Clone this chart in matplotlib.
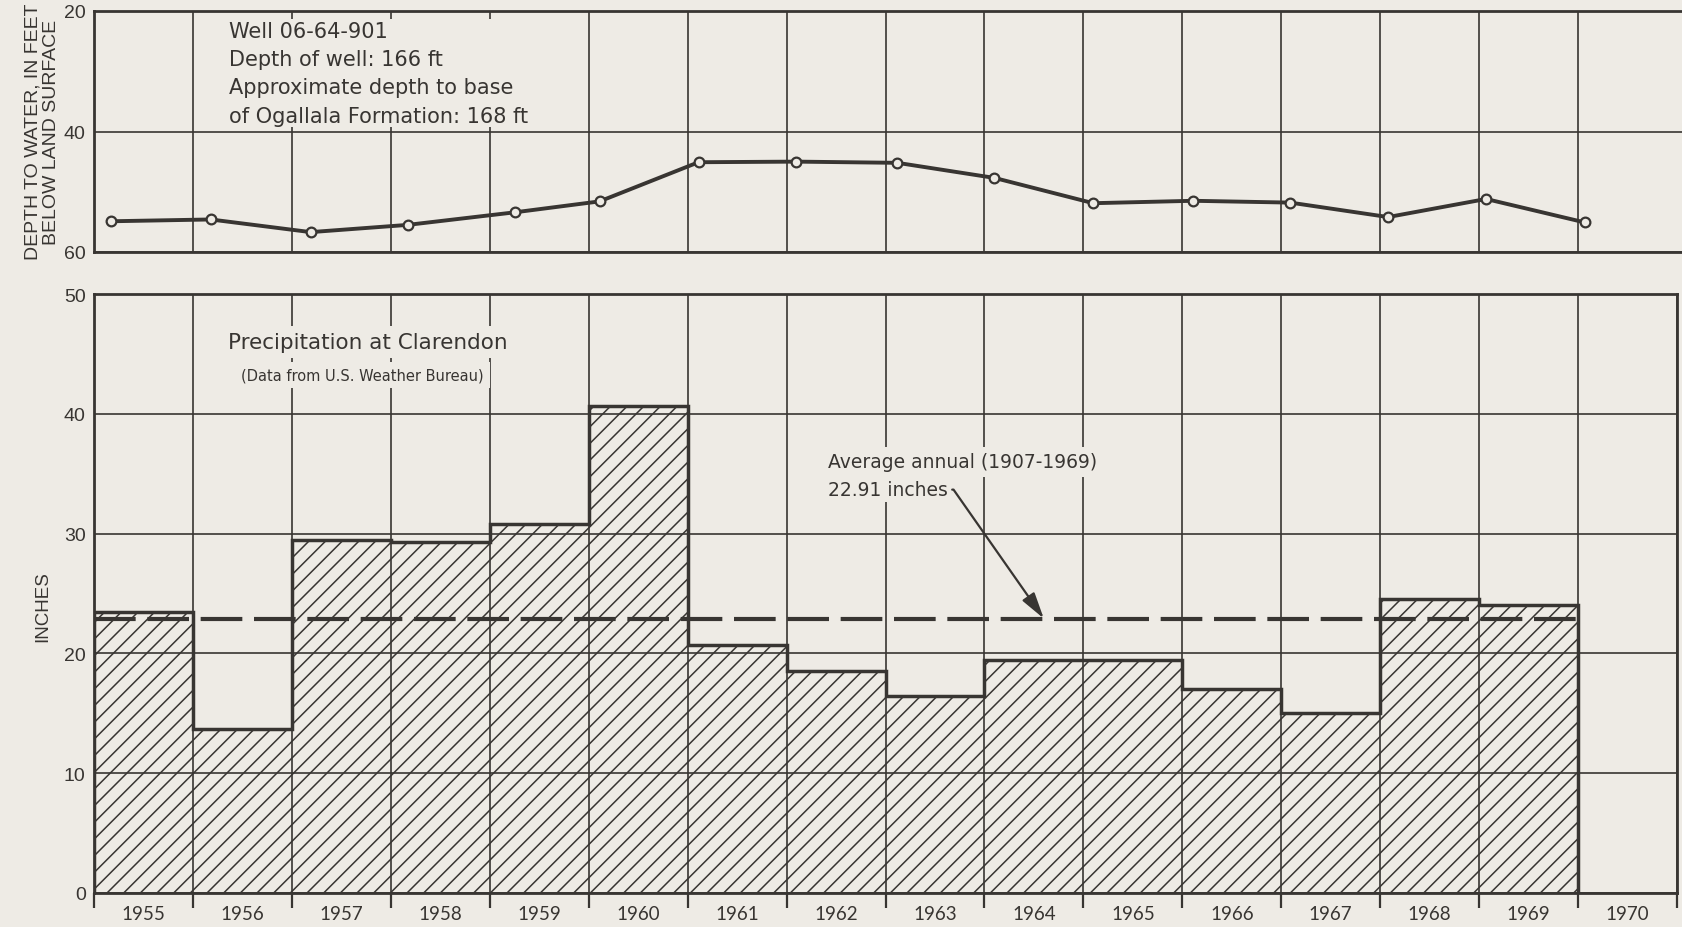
import numpy as np
import matplotlib.pyplot as plt

PAPER = "#eeebe5"
INK = "#383532"

# annual precipitation at Clarendon, inches
years = np.arange(1955, 1970)
precip = [23.47, 13.67, 29.47, 29.30, 30.78, 40.64, 20.67, 18.53,
          16.44, 19.42, 19.42, 17.06, 15.06, 24.58, 24.03]
avg_annual = 22.91

# well 06-64-901, depth to water in ft, measured early in each year
well_year = np.arange(1955, 1971)
well_offset = [0.17, 0.18, 0.19, 0.17, 0.26, 0.11, 0.11, 0.10,
               0.12, 0.10, 0.10, 0.11, 0.09, 0.08, 0.07, 0.07]
well_depth = [54.9, 54.6, 56.7, 55.5, 53.4, 51.6, 45.1, 45.0,
              45.2, 47.7, 51.9, 51.5, 51.8, 54.2, 51.2, 55.1]

year_labels = [str(y) for y in range(1955, 1971)]

plt.rcParams["hatch.linewidth"] = 1.1
plt.rcParams["hatch.color"] = INK
plt.rcParams["font.family"] = ["Liberation Sans", "DejaVu Sans"]
LETTER = ["DejaVu Sans"]

fig = plt.figure(figsize=(16.82, 9.28), dpi=100, facecolor=PAPER)
ax1 = fig.add_axes([94 / 1682, 1 - 253 / 928, 1588 / 1682, 241 / 928])
ax2 = fig.add_axes([94 / 1682, 1 - 894 / 928, 1583 / 1682, 599 / 928])

edges = np.arange(1955, 1972)
bar_edges = np.append(years, years[-1] + 1)

for ax in (ax1, ax2):
    ax.set_facecolor(PAPER)
    ax.set_axisbelow(False)
    for s in ax.spines.values():
        s.set_linewidth(2.0)
        s.set_color(INK)
    ax.grid(True, which="major", color=INK, linewidth=1.2)
    ax.tick_params(axis="y", length=0, pad=6, labelsize=14, labelcolor=INK)

# --- well hydrograph ---
ax1.plot(well_year + np.array(well_offset), well_depth, color=INK, lw=2.8,
         marker="o", ms=7, mfc=PAPER, mec=INK, mew=1.6, zorder=3)
ax1.set_xlim(1955, 1955 + 1588 / 98.94)
ax1.set_xticks(edges[:-1])
ax1.set_ylim(60, 20)
ax1.set_yticks([20, 40, 60])
ax1.tick_params(axis="x", length=0, labelbottom=False)
ax1.spines["right"].set_visible(False)

ax1.text(1956.36, 21.6,
         "Well 06-64-901\nDepth of well: 166 ft\nApproximate depth to base\n"
         "of Ogallala Formation: 168 ft",
         family=LETTER, fontsize=15, va="top", ha="left", linespacing=1.52,
         color=INK, zorder=4,
         bbox=dict(facecolor=PAPER, edgecolor="none", pad=1))

# --- precipitation ---
ax2.stairs(precip, bar_edges, baseline=0, fill=True, facecolor=PAPER,
           edgecolor=INK, hatch="//", linewidth=0, zorder=1)
ax2.stairs(precip, bar_edges, baseline=0, color=INK, linewidth=2.5, zorder=2)
ax2.hlines(avg_annual, bar_edges[0], bar_edges[-1], colors=INK, linewidth=3,
           linestyles=(0, (10, 2.8)), zorder=2.6)

ax2.set_xlim(1955, 1971)
ax2.set_ylim(0, 50)
ax2.set_yticks(range(0, 51, 10))
ax2.set_xticks(edges)
ax2.tick_params(axis="x", which="major", length=11, width=1.6, direction="out",
                color=INK, labelbottom=False)
ax2.set_xticks(edges[:-1] + 0.5, year_labels, minor=True)
ax2.tick_params(axis="x", which="minor", length=0, pad=9, labelsize=13.5,
                labelcolor=INK)
for lbl in ax2.get_xticklabels(minor=True):
    lbl.set_fontfamily(["Lato", "DejaVu Sans"])

mask = dict(facecolor=PAPER, edgecolor="none", pad=4)
ax2.text(1956.35, 46.0, "Precipitation at Clarendon", family=LETTER,
         fontsize=15.5, va="center", ha="left", color=INK, zorder=4, bbox=mask)
ax2.text(1956.49, 43.25, "(Data from U.S. Weather Bureau)", family=LETTER,
         fontsize=10.5, va="center", ha="left", color=INK, zorder=4, bbox=mask)
ax2.text(1962.42, 36.0, "Average annual (1907-1969)", family=LETTER,
         fontsize=13.5, va="center", ha="left", color=INK, zorder=4, bbox=mask)
ax2.annotate("22.91 inches", xy=(1964.6, avg_annual), xytext=(1962.42, 33.67),
             family=LETTER, fontsize=13.5, va="center", ha="left", color=INK,
             zorder=4, bbox=dict(facecolor=PAPER, edgecolor="none", pad=2),
             arrowprops=dict(arrowstyle="-|>,head_length=0.8,head_width=0.22",
                             color=INK, lw=1.6, mutation_scale=20,
                             connectionstyle="angle,angleA=0,angleB=125,rad=0",
                             relpos=(1, 0.5), shrinkA=1, shrinkB=0))

fig.text(42 / 1682, 1 - 132 / 928, "DEPTH TO WATER, IN FEET\nBELOW LAND SURFACE",
         rotation=90, ha="center", va="center", fontsize=14, linespacing=1.1,
         color=INK)
fig.text(43 / 1682, 1 - 607 / 928, "INCHES", rotation=90, ha="center",
         va="center", fontsize=13.5, color=INK)

fig.savefig("out.png", dpi=100, facecolor=PAPER)
